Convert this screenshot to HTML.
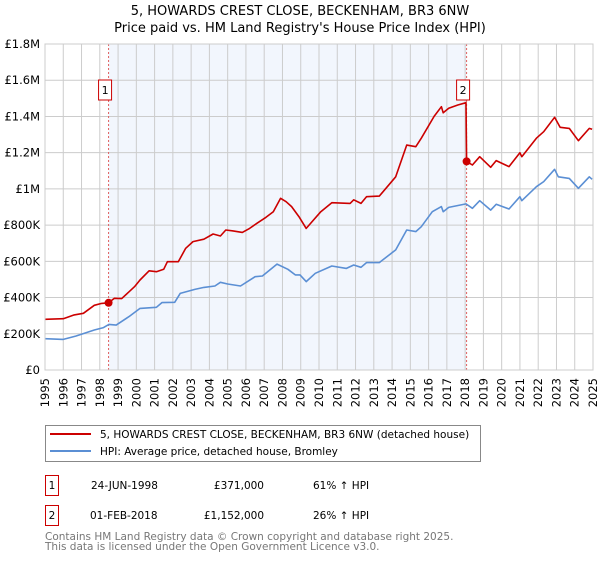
<!DOCTYPE html>
<html><head><meta charset="utf-8"><style>
body{margin:0;background:#fff;width:600px;height:560px;overflow:hidden;font-family:"DejaVu Sans","Liberation Sans",sans-serif;}
svg text{font-family:"DejaVu Sans","Liberation Sans",sans-serif;}
</style></head><body>
<svg id="chart" width="600" height="560" xmlns="http://www.w3.org/2000/svg">
<text x="300" y="15" text-anchor="middle" font-size="13" fill="#000">5, HOWARDS CREST CLOSE, BECKENHAM, BR3 6NW</text>
<text x="300" y="32" text-anchor="middle" font-size="13" fill="#000">Price paid vs. HM Land Registry's House Price Index (HPI)</text>
<g id="plot"></g>
<g>
<rect x="45.5" y="425.5" width="435" height="36" fill="#fff" stroke="#888" stroke-width="1"/>
<line x1="50" y1="434" x2="91" y2="434" stroke="#cc0000" stroke-width="2"/>
<text x="100" y="438" font-size="10.5">5, HOWARDS CREST CLOSE, BECKENHAM, BR3 6NW (detached house)</text>
<line x1="50" y1="451" x2="91" y2="451" stroke="#5b8fd4" stroke-width="2"/>
<text x="100" y="455" font-size="10.5">HPI: Average price, detached house, Bromley</text>
</g>
<g font-size="10.5">
<rect x="45.5" y="475.5" width="13" height="20" fill="#fff" stroke="#cc0000"/>
<text x="52" y="489" text-anchor="middle">1</text>
<text x="91" y="489">24-JUN-1998</text>
<text x="264" y="489" text-anchor="end">£371,000</text>
<text x="313" y="489">61% ↑ HPI</text>
<rect x="45.5" y="505.5" width="13" height="20" fill="#fff" stroke="#cc0000"/>
<text x="52" y="519" text-anchor="middle">2</text>
<text x="90" y="519">01-FEB-2018</text>
<text x="264" y="519" text-anchor="end">£1,152,000</text>
<text x="313" y="519">26% ↑ HPI</text>
</g>
<text x="45" y="540" font-size="10.5" fill="#777">Contains HM Land Registry data © Crown copyright and database right 2025.</text>
<text x="45" y="550" font-size="10.5" fill="#777">This data is licensed under the Open Government Licence v3.0.</text>
</svg>
<script>
const years=[1995,1996,1997,1998,1999,2000,2001,2002,2003,2004,2005,2006,2007,2008,2009,2010,2011,2012,2013,2014,2015,2016,2017,2018,2019,2020,2021,2022,2023,2024,2025];
const yTicks=[0,200000,400000,600000,800000,1000000,1200000,1400000,1600000,1800000];
const yTickLabels=["£0","£200K","£400K","£600K","£800K","£1M","£1.2M","£1.4M","£1.6M","£1.8M"];
const saleDates=[1998.48,2018.08];
const salePrices=[371000,1152000];
const saleLabels=["1","2"];
const redT=[1995.0,1996.0,1996.6,1997.1,1997.7,1998.1,1998.48,1998.8,1999.2,1999.9,2000.2,2000.7,2001.1,2001.5,2001.7,2002.3,2002.7,2003.1,2003.7,2004.2,2004.6,2004.9,2005.3,2005.8,2006.2,2006.6,2007.1,2007.5,2007.9,2008.2,2008.5,2008.9,2009.3,2010.1,2010.7,2011.7,2011.9,2012.3,2012.6,2013.3,2014.2,2014.8,2015.3,2015.6,2016.3,2016.7,2016.8,2017.1,2017.6,2018.05,2018.08,2018.4,2018.8,2019.4,2019.7,2020.4,2021.0,2021.1,2021.9,2022.3,2022.9,2023.2,2023.7,2024.2,2024.8,2024.95];
const redV=[280,283,304,313,357,368,371,396,394,460,497,548,543,556,598,598,672,709,722,751,740,773,768,760,782,810,843,874,948,929,902,847,782,874,924,920,940,920,957,960,1067,1242,1233,1280,1400,1454,1420,1445,1463,1476,1152,1132,1178,1119,1156,1123,1200,1178,1280,1316,1395,1340,1334,1266,1334,1329];
const blueT=[1995.0,1996.0,1996.7,1997.7,1998.2,1998.5,1998.9,1999.6,2000.2,2001.1,2001.4,2002.1,2002.4,2003.2,2003.7,2004.3,2004.6,2005.0,2005.7,2006.5,2006.9,2007.7,2008.3,2008.7,2008.96,2009.3,2009.8,2010.7,2011.5,2011.9,2012.3,2012.6,2013.3,2014.2,2014.8,2015.3,2015.6,2016.2,2016.7,2016.8,2017.1,2018.05,2018.4,2018.8,2019.4,2019.7,2020.4,2021.0,2021.1,2021.9,2022.3,2022.9,2023.1,2023.7,2024.2,2024.8,2024.95];
const blueV=[173,169,188,221,234,252,248,295,340,346,372,374,423,445,456,464,484,475,464,515,519,585,556,525,525,488,534,574,561,580,567,593,593,663,773,764,791,874,902,874,898,917,893,935,883,915,889,957,935,1012,1040,1108,1067,1058,1003,1067,1053];

const X0=45,X1=593,Y0=370,Y1=44;
const sx=t=>X0+(t-1995)/30*(X1-X0);
const sy=v=>Y0-v/1800000*(Y0-Y1);
const NS="http://www.w3.org/2000/svg";
const g=document.getElementById('plot');
function mk(tag,attrs){const e=document.createElementNS(NS,tag);for(const k in attrs)e.setAttribute(k,attrs[k]);g.appendChild(e);return e;}
const band=mk('rect',{x:sx(saleDates[0]),y:Y1,width:sx(saleDates[1])-sx(saleDates[0]),height:Y0-Y1,fill:'#f2f6fd'});


yTicks.forEach((v,i)=>{
 const l=mk('line',{x1:X0,x2:X1,y1:sy(v),y2:sy(v),stroke:'#cccccc','stroke-width':1});
 
 
 const t=mk('text',{x:40,y:sy(v)+4,'text-anchor':'end','font-size':'11.5',fill:'#000'});
 t.textContent=yTickLabels[i];
 
 
});
years.forEach(y=>{
 const l=mk('line',{x1:sx(y),x2:sx(y),y1:Y1,y2:Y0,stroke:'#cccccc','stroke-width':1});
 
 
 const t=mk('text',{x:0,y:0,'font-size':'11.5',fill:'#000','text-anchor':'end',transform:'translate('+(sx(y)+4)+','+(Y0+8)+') rotate(-90)'});
 t.textContent=String(y);
 
 
});
saleDates.forEach((d,i)=>{
 const l=mk('line',{x1:sx(d),x2:sx(d),y1:Y1,y2:Y0,stroke:'#e06060','stroke-width':1,'stroke-dasharray':'2,2'});
 
 
});
function path(T,V,color,name){
 const d=T.map((t,i)=>(i?'L':'M')+sx(t).toFixed(1)+','+sy(V[i]*1000).toFixed(1)).join('');
 const p=mk('path',{d:d,fill:'none',stroke:color,'stroke-width':1.6,'stroke-linejoin':'round'});
 
 
}
path(blueT,blueV,'#5b8fd4','hpi-line');
path(redT,redV,'#cc0000','property-price-line');
saleDates.forEach((d,i)=>{
 const c=mk('circle',{cx:sx(d),cy:sy(salePrices[i]),r:4,fill:'#cc0000'});
 
 
 const r=mk('rect',{x:sx(d)-10,y:80,width:13,height:20,fill:'#fff',stroke:'#cc0000'});
 
 
 const t=mk('text',{x:sx(d)-3.5,y:94,'text-anchor':'middle','font-size':'11',fill:'#000'});
 t.textContent=saleLabels[i];
 
 
});
const f=mk('rect',{x:X0,y:Y1,width:X1-X0,height:Y0-Y1,fill:'none',stroke:'#cccccc'});


</script>
</body></html>
